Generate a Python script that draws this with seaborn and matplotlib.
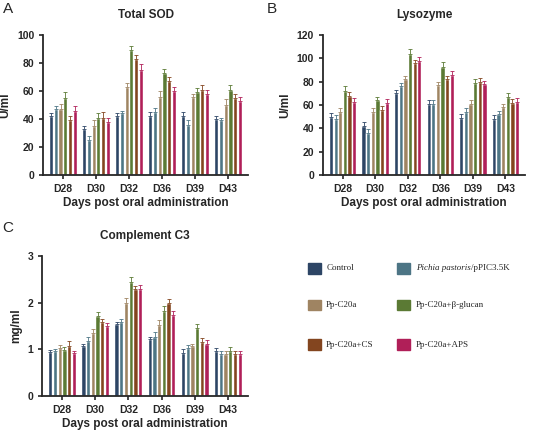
import numpy as np
import pandas as pd
import matplotlib
matplotlib.use("Agg")
import matplotlib.pyplot as plt
import seaborn as sns

days = ["D28", "D30", "D32", "D36", "D39", "D43"]
groups = ["Control", "Pichia pastoris/pPIC3.5K", "Pp-C20a", "Pp-C20a+β-glucan", "Pp-C20a+CS", "Pp-C20a+APS"]
colors = ["#2d4565", "#4d7585", "#9f8462", "#5b7a34", "#83451f", "#b01f58"]

# rows = days, columns = groups
sod = [[42, 47, 47, 55, 39, 46],
       [33, 25, 35, 41, 41, 38],
       [42, 44, 63, 89, 83, 75],
       [42, 45, 56, 73, 67, 60],
       [42, 36, 56, 59, 61, 58],
       [40, 39, 50, 61, 55, 53]]
sod_err = [[2, 2, 4, 4, 3, 3],
           [2, 3, 4, 3, 4, 3],
           [2, 2, 3, 3, 3, 4],
           [3, 3, 4, 3, 3, 3],
           [3, 3, 2, 3, 3, 3],
           [2, 2, 4, 3, 3, 3]]
lys = [[50, 48, 54, 72, 68, 63],
       [42, 36, 54, 64, 56, 62],
       [70, 76, 82, 104, 96, 98],
       [61, 61, 77, 93, 82, 86],
       [49, 54, 61, 79, 80, 78],
       [48, 52, 58, 67, 62, 63]]
lys_err = [[3, 3, 3, 4, 3, 3],
           [3, 3, 3, 3, 3, 3],
           [3, 3, 3, 4, 3, 3],
           [3, 3, 3, 4, 3, 3],
           [3, 3, 3, 3, 3, 3],
           [3, 3, 3, 3, 3, 3]]
c3 = [[0.94, 0.95, 1.02, 0.99, 1.07, 0.92],
      [1.06, 1.17, 1.34, 1.71, 1.58, 1.49],
      [1.54, 1.59, 2.00, 2.45, 2.28, 2.30],
      [1.22, 1.27, 1.52, 1.82, 2.00, 1.73],
      [0.92, 1.02, 1.06, 1.45, 1.16, 1.11],
      [0.97, 0.90, 0.90, 0.96, 0.90, 0.89]]
c3_err = [[0.05, 0.05, 0.06, 0.06, 0.1, 0.05],
          [0.05, 0.1, 0.1, 0.08, 0.07, 0.08],
          [0.05, 0.06, 0.1, 0.1, 0.08, 0.08],
          [0.05, 0.1, 0.1, 0.1, 0.08, 0.08],
          [0.08, 0.06, 0.06, 0.1, 0.08, 0.08],
          [0.06, 0.06, 0.06, 0.08, 0.06, 0.06]]

sns.set_style("ticks")
plt.rcParams['font.family'] = ['Liberation Sans', 'DejaVu Sans']

fig = plt.figure(figsize=(5.33, 4.33), dpi=100)


def panel(rect, vals, errs, title, ylabel, ymax, ystep, letter, lpos):
    ax = fig.add_axes(rect)
    df = pd.DataFrame([(d, g, vals[i][j]) for i, d in enumerate(days) for j, g in enumerate(groups)],
                      columns=["day", "group", "val"])
    sns.barplot(data=df, x="day", y="val", hue="group", hue_order=groups, palette=colors,
                width=0.85, gap=0.08, errorbar=None, ax=ax, legend=False, saturation=1)
    n = len(groups)
    w = 0.85 / n
    for i in range(len(days)):
        for j in range(n):
            x = i - 0.425 + w * (j + 0.5)
            ax.errorbar(x, vals[i][j], yerr=[[0], [errs[i][j]]], color=colors[j], capsize=1.2,
                        lw=0.6, capthick=0.6)
    ax.set_ylim(0, ymax)
    ax.set_yticks(np.arange(0, ymax + ystep / 2, ystep))
    ax.set_xlim(-0.6, len(days) - 0.4)
    ax.set_title(title, fontsize=8.5, fontweight="bold", pad=12)
    ax.set_ylabel(ylabel, fontsize=8.5, fontweight="bold")
    ax.set_xlabel("Days post oral administration", fontsize=8.5, fontweight="bold", labelpad=2)
    ax.tick_params(labelsize=7.5, width=1.2, length=3)
    for t in ax.get_xticklabels() + ax.get_yticklabels():
        t.set_fontweight("bold")
    for s in ["left", "bottom"]:
        ax.spines[s].set_linewidth(1.3)
    sns.despine(ax=ax)
    fig.text(lpos[0], lpos[1], letter, fontsize=11, va="top")
    return ax


panel([0.081, 0.596, 0.384, 0.323], sod, sod_err, "Total SOD", "U/ml", 100, 20, "A", (0.005, 0.995))
panel([0.606, 0.596, 0.379, 0.323], lys, lys_err, "Lysozyme", "U/ml", 120, 20, "B", (0.50, 0.995))
panel([0.079, 0.086, 0.386, 0.323], c3, c3_err, "Complement C3", "mg/ml", 3, 1, "C", (0.005, 0.49))

# legend
lx = [0.577, 0.745]
ly = [0.38, 0.295, 0.203]
for k, g in enumerate(groups):
    x = lx[k % 2]
    y = ly[k // 2]
    fig.patches.append(plt.Rectangle((x, y - 0.012), 0.025, 0.025, transform=fig.transFigure,
                                     color=colors[k]))
    if k == 1:
        fig.text(x + 0.035, y, "Pichia pastoris", fontsize=6.5, style="italic", va="center",
                 family="Liberation Serif")
        fig.text(x + 0.138, y, "/pPIC3.5K", fontsize=6.5, va="center", family="Liberation Serif")
    else:
        fig.text(x + 0.035, y, g, fontsize=6.5, va="center", family="Liberation Serif")

fig.savefig("out.png", dpi=100)
